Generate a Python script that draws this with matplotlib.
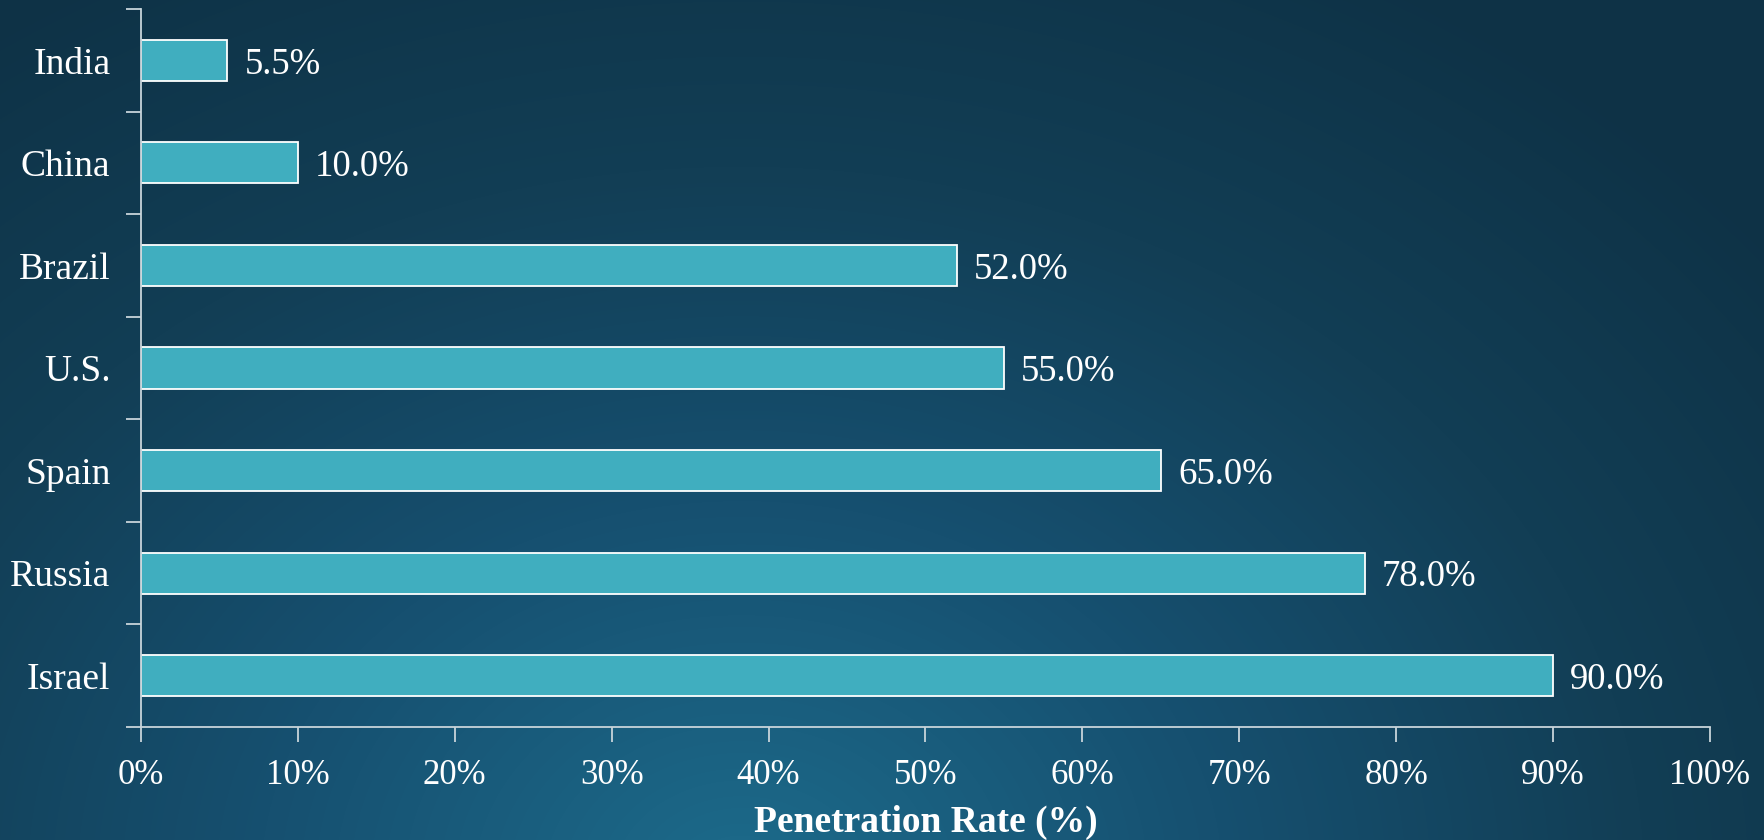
import numpy as np
import matplotlib.pyplot as plt
from matplotlib.colors import LinearSegmentedColormap

countries = ["India", "China", "Brazil", "U.S.", "Spain", "Russia", "Israel"]
rates = [5.5, 10.0, 52.0, 55.0, 65.0, 78.0, 90.0]
xticks = [0, 10, 20, 30, 40, 50, 60, 70, 80, 90, 100]

plt.rcParams['font.family'] = ['Liberation Serif', 'DejaVu Serif']

fig = plt.figure(figsize=(17.65, 8.4), dpi=100)

# background gradient (lighter toward bottom centre, dark at the corners)
bg = fig.add_axes([0, 0, 1, 1], zorder=-10)
h, w = 840, 1765
yy, xx = np.mgrid[0:h, 0:w]
d = np.sqrt(((xx - 0.42 * w) / (0.75 * w)) ** 2 + ((yy - 1.05 * h) / (1.25 * h)) ** 2)
d = np.clip(d, 0, 1)
cmap = LinearSegmentedColormap.from_list("bg", ["#1c6888", "#165070", "#123e55", "#0e3246"])
bg.imshow(d, cmap=cmap, aspect="auto", extent=[0, 1, 0, 1], origin="upper")
bg.axis("off")

ax = fig.add_axes([0.0799, 0.1345, 0.8889, 0.8548])
ax.patch.set_alpha(0)

y = np.arange(len(countries))
bars = ax.barh(y, rates, height=0.4, color="#40aebf", edgecolor="white", linewidth=1.3)

for yi, v in zip(y, rates):
    ax.text(v + 1.1, yi, f"{v:.1f}%", va="center_baseline", ha="left", color="white", fontsize=26.5)

ax.set_xlim(0, 100)
ax.set_ylim(len(countries) - 0.5, -0.5)
ax.set_xticks(xticks)
ax.set_xticklabels([f"{t}%" for t in xticks])
ax.set_yticks(y)
ax.set_yticklabels(countries, fontsize=27)
ax.set_yticks(np.arange(-0.5, len(countries), 1.0), minor=True)
ax.tick_params(axis="y", which="major", length=0, pad=22, labelcolor="white")
ax.tick_params(axis="y", which="minor", length=11, width=1.3, color="#c8d4da")
ax.tick_params(axis="x", length=11, width=1.3, color="#c8d4da", pad=12, labelsize=25, labelcolor="white")

for s in ["top", "right"]:
    ax.spines[s].set_visible(False)
for s in ["left", "bottom"]:
    ax.spines[s].set_color("#c8d4da")
    ax.spines[s].set_linewidth(1.3)

ax.set_xlabel("Penetration Rate (%)", fontsize=27, fontweight="bold", color="white", labelpad=9)

fig.savefig("out.png", dpi=100)
